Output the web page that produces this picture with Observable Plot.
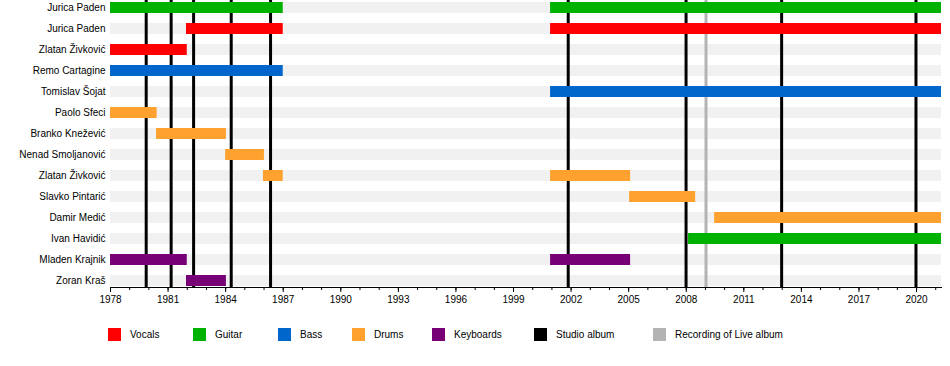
<!DOCTYPE html>
<html>
<head>
<meta charset="utf-8">
<script src="https://cdn.jsdelivr.net/npm/d3@7"></script>
<script src="https://cdn.jsdelivr.net/npm/@observablehq/plot@0.6"></script>
<style>
  body { margin: 0; background: #fff; font-family: "Liberation Sans", Arial, sans-serif; }
  #wrap { position: relative; width: 950px; height: 366px; }
  #legend .item { position: absolute; top: 328px; display: flex; align-items: center; font-size: 10px; color: #000; white-space: nowrap; }
  #legend .sw { width: 13px; height: 13px; margin-right: 9px; }
</style>
</head>
<body>
<div id="wrap"><div id="chart"></div><div id="legend"></div></div>
<script>
// Rows (top to bottom)
const members = ["Jurica Paden", "Jurica Paden", "Zlatan Živković", "Remo Cartagine", "Tomislav Šojat",
  "Paolo Sfeci", "Branko Knežević", "Nenad Smoljanović", "Zlatan Živković", "Slavko Pintarić",
  "Damir Medić", "Ivan Havidić", "Mladen Krajnik", "Zoran Kraš"];
const roles = ["Guitar", "Vocals", "Vocals", "Bass", "Bass", "Drums", "Drums", "Drums", "Drums", "Drums",
  "Drums", "Guitar", "Keyboards", "Keyboards"];
// Membership spans: [row, start, end]
const spans = [
  [0, 1978, 1987], [0, 2000.93, 2021.3],
  [1, 1981.96, 1987], [1, 2000.93, 2021.3],
  [2, 1978, 1982],
  [3, 1978, 1987],
  [4, 2000.93, 2021.3],
  [5, 1978, 1980.43],
  [6, 1980.4, 1984.04],
  [7, 1984, 1986.02],
  [8, 1985.97, 1987], [8, 2000.93, 2005.1],
  [9, 2005.05, 2008.49],
  [10, 2009.48, 2021.3],
  [11, 2008.12, 2021.3],
  [12, 1978, 1982], [12, 2000.93, 2005.1],
  [13, 1981.96, 1984.04]
];
const studioAlbums = [1979.86, 1981.16, 1982.33, 1984.29, 1986.34, 2001.85, 2007.99, 2012.97, 2019.97];
const liveAlbums = [2009.03];
const timeStart = 1978, timeEnd = 2021.3;
const labeledTicks = d3.range(1978, 2021, 3);
const minorTicks = d3.range(1978, 2022);

const roleNames = ["Vocals", "Guitar", "Bass", "Drums", "Keyboards"];
const roleColors = ["#ff0000", "#00b200", "#0066cc", "#ffa12e", "#770077"];
const studioColor = "#000000", liveColor = "#b3b3b3";

const rowIdx = d3.range(members.length);

const chart = Plot.plot({
  width: 950,
  height: 312,
  marginLeft: 110,
  marginRight: 9,
  marginTop: 0,
  marginBottom: 25,
  style: { fontFamily: "'Liberation Sans', Arial, sans-serif", fontSize: "10px", color: "#000", background: "#fff" },
  x: { domain: [timeStart, timeEnd], label: null },
  y: { domain: rowIdx, paddingInner: 0.48, paddingOuter: 0.04, label: null },
  color: { domain: roleNames, range: roleColors },
  marks: [
    Plot.barX(rowIdx, { y: d => d, x1: () => timeStart, x2: () => timeEnd, fill: "#f1f1f1" }),
    Plot.ruleX(studioAlbums, { x: d => d, stroke: studioColor, strokeWidth: 3 }),
    Plot.ruleX(liveAlbums, { x: d => d, stroke: liveColor, strokeWidth: 3 }),
    Plot.barX(spans, { y: d => d[0], x1: d => d[1], x2: d => d[2], fill: d => roles[d[0]] }),
    Plot.frame({ anchor: "bottom", stroke: "#000" }),
    Plot.axisX({ ticks: minorTicks, tickSize: 3, text: null, stroke: "#000" }),
    Plot.axisX({ ticks: labeledTicks, tickSize: 5, tickPadding: 3, tickFormat: d => String(d), stroke: "#000", fill: "#000" }),
    Plot.axisY({ tickSize: 0, tickPadding: 5, tickFormat: i => members[i], fill: "#000" })
  ]
});
document.getElementById("chart").appendChild(chart);

// Legend
const legendItems = roleNames.map((n, i) => [n, roleColors[i]]).concat([["Studio album", studioColor], ["Recording of Live album", liveColor]]);
const legendLeft = [108, 193, 278, 352, 432, 534, 653];
const legend = d3.select("#legend");
legendItems.forEach(([name, col], i) => {
  const it = legend.append("div").attr("class", "item").style("left", legendLeft[i] + "px");
  it.append("div").attr("class", "sw").style("background", col);
  it.append("span").text(name);
});
</script>
</body>
</html>
